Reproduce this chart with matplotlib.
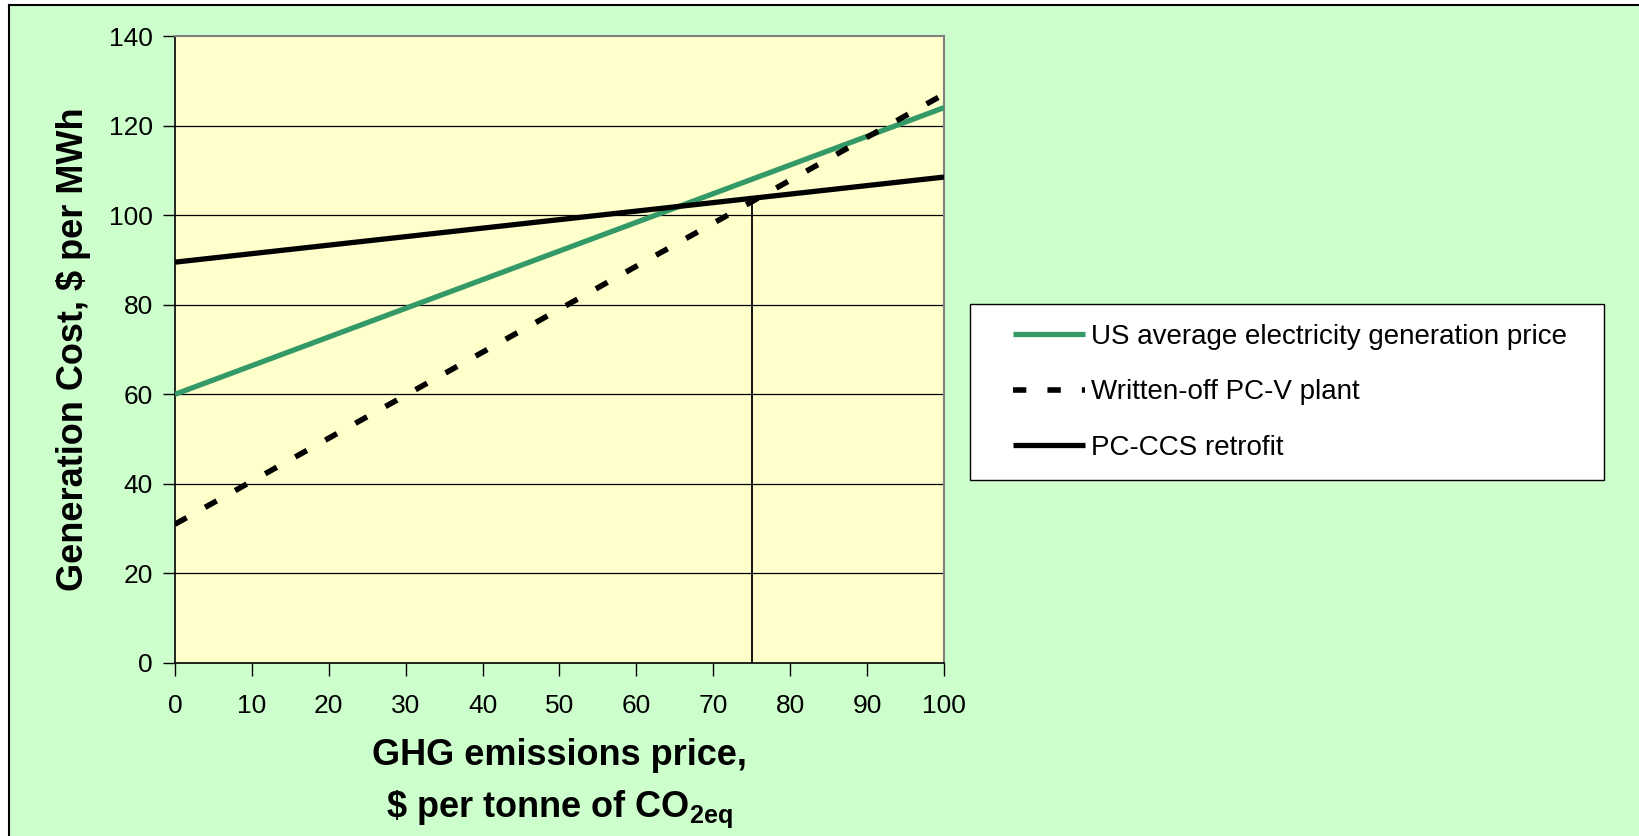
import matplotlib
matplotlib.use("Agg")
import matplotlib.pyplot as plt
from matplotlib.patches import Rectangle

plt.rcParams['font.family'] = ['Liberation Sans', 'DejaVu Sans']
plt.rcParams['mathtext.fontset'] = 'custom'
plt.rcParams['mathtext.rm'] = 'Liberation Sans'
plt.rcParams['mathtext.bf'] = 'Liberation Sans:bold'

# GHG emissions price, $ per tonne CO2eq
price = [0, 10, 20, 30, 40, 50, 60, 70, 80, 90, 100]
# generation cost, $ per MWh
us_avg = [60, 66.4, 72.8, 79.2, 85.6, 92, 98.4, 104.8, 111.2, 117.6, 124]
pcv_written_off = [31, 40.6, 50.2, 59.8, 69.4, 79, 88.6, 98.2, 107.8, 117.4, 127]
pc_ccs = [89.5, 91.4, 93.3, 95.2, 97.1, 99, 100.9, 102.8, 104.7, 106.6, 108.5]
marker_x = 75
marker_y = 103.75

labels = ["US average electricity generation price",
          "Written-off PC-V plant",
          "PC-CCS retrofit"]

W, H = 1640, 836
fig = plt.figure(figsize=(W / 100, H / 100), dpi=100)
fig.patch.set_facecolor('white')
# green chart area, black frame on left and top
fig.patches.append(Rectangle((9 / W, 0), 1 - 9 / W, 1 - 5 / H, transform=fig.transFigure,
                             facecolor='#CCFFCC', edgecolor='none', zorder=-10))
fig.add_artist(plt.Line2D([9 / W, 9 / W], [0, 1 - 5 / H], color='black', lw=1.5,
                          transform=fig.transFigure))
fig.add_artist(plt.Line2D([9 / W, 1], [1 - 5 / H, 1 - 5 / H], color='black', lw=1.5,
                          transform=fig.transFigure))

ax = fig.add_axes([175 / W, 1 - 663 / H, (944 - 175) / W, (663 - 36) / H])
ax.set_facecolor('#FFFFCC')

for v in range(20, 140, 20):
    ax.axhline(v, color='black', lw=0.9, zorder=1)

l1, = ax.plot(price, us_avg, color='#339966', lw=3.8, solid_capstyle='butt', zorder=3)
l2, = ax.plot(price, pcv_written_off, color='black', lw=4.0, zorder=3)
l2.set_dashes([2.4, 3.8])
l3, = ax.plot(price, pc_ccs, color='black', lw=3.8, solid_capstyle='butt', zorder=3)
ax.plot([marker_x, marker_x], [0, marker_y], color='black', lw=1.3, zorder=2)

ax.set_xlim(0, 100)
ax.set_ylim(0, 140)
ax.set_xticks(range(0, 101, 10))
ax.set_yticks(range(0, 141, 20))
ax.tick_params(axis='both', direction='out', length=9, width=1, labelsize=19, color='black')
ax.tick_params(axis='x', pad=13)
ax.tick_params(axis='y', pad=7)

for s in ['left', 'bottom']:
    ax.spines[s].set_color('black')
    ax.spines[s].set_linewidth(1.2)
for s in ['top', 'right']:
    ax.spines[s].set_color('#808080')
    ax.spines[s].set_linewidth(1.5)

ax.set_ylabel("Generation Cost, $ per MWh", fontsize=26, fontweight='bold', labelpad=13)
ax.set_xlabel("GHG emissions price,\n\\$ per tonne of CO$_{\\mathbf{2eq}}$", fontsize=26,
              fontweight='bold', labelpad=15, linespacing=1.52)

# legend box
fig.patches.append(Rectangle((970 / W, 1 - 480 / H), (1604 - 970) / W, (480 - 304) / H,
                             transform=fig.transFigure, facecolor='white',
                             edgecolor='black', lw=1.0, zorder=5))
leg = fig.legend([l1, l2, l3], labels, loc='upper left',
                 bbox_to_anchor=(1013 / W, 1 - 324 / H), fontsize=20,
                 frameon=False, handlelength=2.6, handletextpad=0.22,
                 labelspacing=1.06, borderpad=0, borderaxespad=0)
leg.set_zorder(6)

fig.savefig('out.png', dpi=100)
